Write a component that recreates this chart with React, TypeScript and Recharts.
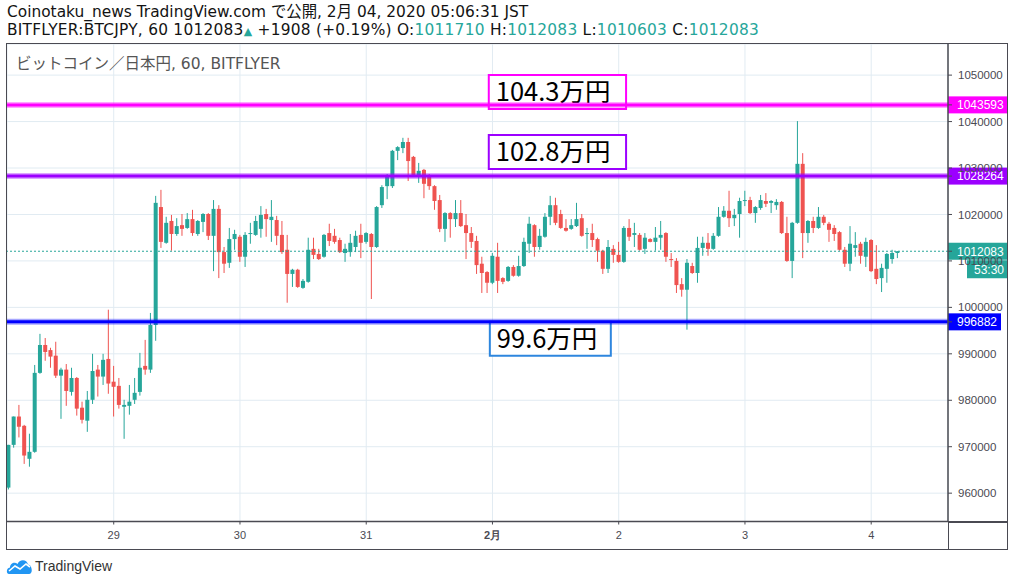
import React from "react";
import {
  Bar,
  CartesianGrid,
  ComposedChart,
  ReferenceArea,
  ReferenceLine,
  XAxis,
  YAxis,
} from "recharts";

// hourly BTC/JPY candles, Jan 28 04:00 .. Feb 4 05:00 JST
const opens = [
  961200, 970400, 976500, 974500, 967400, 968900, 985900, 991900, 990800, 989600,
  985300, 986600, 981800, 984800, 978400, 975600, 980100, 986600, 985100, 988900,
  984000, 983100, 978600, 978800, 980100, 981800, 987400, 986600, 996200, 1021600,
  1013900, 1018600, 1015800, 1017700, 1017100, 1019000, 1015800, 1018400, 1020100, 1015400,
  1021200, 1011900, 1009600, 1014700, 1015200, 1010900, 1015800, 1015600, 1016900, 1020100,
  1018800, 1018800, 1015600, 1012400, 1007200, 1008100, 1004200, 1005500, 1012600, 1011500,
  1010900, 1016000, 1015400, 1014500, 1011700, 1011900, 1013000, 1015600, 1014100, 1015800,
  1013000, 1022000, 1026100, 1026100, 1033700, 1034300, 1035600, 1032400, 1028500, 1029600,
  1028100, 1026100, 1023100, 1016900, 1020300, 1019000, 1020300, 1017700, 1016000, 1014300,
  1009400, 1007600, 1005300, 1010900, 1006300, 1005700, 1008700, 1006800, 1008900, 1013700,
  1017700, 1013000, 1015200, 1019500, 1022000, 1020100, 1017100, 1016900, 1017500, 1019200,
  1015800, 1016000, 1014700, 1012200, 1008300, 1012600, 1011300, 1009800, 1017100, 1015600,
  1015600, 1012600, 1014700, 1014100, 1015000, 1016000, 1010400, 1010000, 1005000, 1003800,
  1008900, 1007400, 1012800, 1013900, 1012600, 1015400, 1019500, 1020800, 1019200, 1020100,
  1022900, 1023100, 1020300, 1021400, 1022900, 1022500, 1022000, 1022700, 1016000, 1010000,
  1018200, 1030900, 1016000, 1018600, 1017100, 1019500, 1018000, 1017100, 1016200, 1012400,
  1009400, 1012800, 1013700, 1010900, 1014500, 1008300, 1006300, 1008300, 1010400, 1011710,
];
const highs = [
  970400, 976500, 979000, 974700, 972800, 987600, 994300, 993400, 991300, 992600,
  987000, 987800, 987000, 985000, 979700, 982000, 990000, 987600, 990000, 999500,
  987400, 984800, 980100, 983300, 984800, 990200, 993000, 998800, 1024000, 1025300,
  1019500, 1019900, 1019200, 1020100, 1020300, 1021000, 1018800, 1020300, 1020300, 1023100,
  1022000, 1013000, 1017100, 1016700, 1015600, 1016200, 1018200, 1019700, 1021800, 1021200,
  1023100, 1019700, 1018600, 1015600, 1008300, 1008300, 1006100, 1015000, 1015000, 1012600,
  1015800, 1018000, 1016900, 1015000, 1013700, 1015800, 1016500, 1018000, 1016200, 1016000,
  1021800, 1026300, 1028700, 1033900, 1034700, 1036500, 1036500, 1032600, 1031100, 1029800,
  1028700, 1026300, 1024200, 1020500, 1020500, 1023100, 1023100, 1020100, 1017300, 1015400,
  1010900, 1007800, 1011700, 1013900, 1006500, 1008900, 1009100, 1011100, 1015000, 1019500,
  1017900, 1016900, 1020300, 1024000, 1023600, 1021000, 1019000, 1019000, 1022500, 1020100,
  1017100, 1018000, 1015000, 1012400, 1014500, 1013400, 1014100, 1017500, 1019000, 1018200,
  1016000, 1016000, 1014900, 1017300, 1018600, 1016200, 1011700, 1010600, 1006300, 1010400,
  1009600, 1015200, 1015200, 1016000, 1016000, 1021600, 1021800, 1025100, 1021200, 1023600,
  1025100, 1023800, 1021800, 1024200, 1024600, 1023100, 1023300, 1022900, 1019500, 1018400,
  1040100, 1033200, 1018800, 1019500, 1021600, 1019900, 1018400, 1017700, 1016400, 1013000,
  1017500, 1016200, 1014100, 1015000, 1014700, 1013400, 1009400, 1011700, 1012400, 1012083,
];
const lows = [
  960800, 969800, 972000, 966300, 965700, 968700, 985700, 988500, 987000, 984800,
  976000, 978800, 981000, 976700, 975000, 973200, 979200, 980800, 983300, 981400,
  976500, 978200, 971700, 976900, 979200, 981000, 985500, 985900, 992800, 1012800,
  1013700, 1012200, 1015400, 1015400, 1016900, 1015400, 1015400, 1016200, 1014500, 1007800,
  1006300, 1007400, 1008500, 1012400, 1009800, 1008700, 1013700, 1015400, 1015000, 1015200,
  1014100, 1013400, 1011500, 1001000, 1004400, 1004200, 1004000, 1005300, 1010400, 1010200,
  1010700, 1013200, 1013700, 1011700, 1009800, 1010900, 1011900, 1010600, 1013700, 1001800,
  1012800, 1021400, 1023300, 1025700, 1031700, 1033200, 1027200, 1028100, 1026800, 1023500,
  1025300, 1021000, 1016200, 1014100, 1015000, 1017300, 1017300, 1010400, 1012800, 1007200,
  1003100, 1003100, 1005000, 1003100, 1005000, 1005500, 1006600, 1006600, 1008700, 1011700,
  1010900, 1012400, 1015000, 1017700, 1017700, 1016900, 1016300, 1016700, 1017300, 1015200,
  1012600, 1013000, 1009800, 1007200, 1007400, 1009600, 1009600, 1009600, 1014300, 1013000,
  1012200, 1011500, 1014000, 1012200, 1012400, 1009800, 1008700, 1003100, 1002300, 995200,
  1007200, 1005300, 1011100, 1011100, 1012400, 1015200, 1019300, 1017300, 1017500, 1015000,
  1021800, 1020100, 1018200, 1021000, 1021600, 1020300, 1021000, 1015800, 1009800, 1006300,
  1018000, 1010600, 1013900, 1016000, 1016900, 1017700, 1014100, 1014300, 1012200, 1008700,
  1007800, 1010900, 1009400, 1008700, 1007600, 1005000, 1003300, 1005300, 1009400, 1010603,
];
const closes = [
  970400, 976500, 974300, 968100, 968900, 985900, 991900, 990400, 989400, 985300,
  986600, 982000, 984800, 978200, 975800, 980100, 986300, 985100, 988700, 983600,
  982900, 979000, 979000, 979700, 981600, 987000, 986600, 996200, 1022500, 1014100,
  1018200, 1015800, 1017500, 1016900, 1019000, 1016000, 1018600, 1020100, 1015400, 1021200,
  1011900, 1009400, 1014700, 1015800, 1010900, 1015600, 1016000, 1018600, 1019900, 1019000,
  1019500, 1015400, 1011900, 1007200, 1008100, 1004400, 1005700, 1012400, 1011300, 1010400,
  1015600, 1014300, 1014100, 1011900, 1012600, 1013900, 1015400, 1013900, 1016000, 1013000,
  1021600, 1025900, 1028100, 1033700, 1034500, 1035600, 1031500, 1028500, 1029400, 1026600,
  1026100, 1022900, 1016900, 1020300, 1019000, 1020300, 1017500, 1016000, 1014100, 1009100,
  1007400, 1005300, 1011100, 1005700, 1005500, 1008700, 1006800, 1008900, 1014100, 1018000,
  1013000, 1015400, 1019500, 1022000, 1018200, 1017100, 1016500, 1017700, 1019000, 1015400,
  1016000, 1014500, 1012200, 1008300, 1013000, 1011300, 1009800, 1017100, 1015200, 1016000,
  1012400, 1015000, 1014100, 1015000, 1015600, 1010900, 1010200, 1004800, 1003800, 1009600,
  1007400, 1012800, 1013900, 1012600, 1015400, 1019500, 1020800, 1019200, 1019900, 1022900,
  1023100, 1020300, 1021600, 1023100, 1022300, 1022900, 1022700, 1016000, 1010000, 1018200,
  1030900, 1016000, 1018600, 1017100, 1019500, 1018200, 1016700, 1015800, 1012400, 1009400,
  1013700, 1013400, 1011100, 1014100, 1007800, 1006100, 1008500, 1011500, 1011700, 1012083,
];

const dayTicks = [20, 44, 68, 92, 116, 140, 164];
const dayLabels = ["29", "30", "31", "2月", "2", "3", "4"];
const priceTicks = [
  960000, 970000, 980000, 990000, 1000000, 1010000, 1020000, 1030000, 1040000, 1050000,
];

// horizontal levels drawn on the chart
const levelPrices = [1043593, 1028264, 996882];
const levelNotes = ["104.3万円", "102.8万円", "99.6万円"];
// note boxes: [from bar, to bar, top price, bottom price]
const noteFrom = [91.3, 91.3, 91.5];
const noteTo = [117.4, 117.4, 114.5];
const noteTop = [1050000, 1037100, 996900];
const noteBottom = [1042700, 1029800, 989600];

const lastPrice = 1012083;
const countdown = "53:30";

const levelColors = ["#ff00ff", "#9c00ff", "#0000ff"];
const noteBorders = ["#ff00ff", "#9c00ff", "#2e86de"];
const UP = "#26a69a";
const DOWN = "#ef5350";
const AXIS = "#4a4a52";
const GRID = "#e1ebf2";
const SANS = "'Liberation Sans', Arial, sans-serif";
const JP = "'Noto Sans CJK JP', 'Noto Sans', sans-serif";
const HEAD = "'DejaVu Sans', 'Noto Sans CJK JP', sans-serif";

const candles = opens.map((o, i) => ({
  i,
  range: [lows[i], highs[i]],
  open: o,
  high: highs[i],
  low: lows[i],
  close: closes[i],
}));

function Candle(props: any) {
  const { x, y, width, height, payload } = props;
  if (x == null || y == null) return null;
  const top = Math.min(y, y + height);
  const bot = Math.max(y, y + height);
  const { open, close, high, low } = payload;
  const k = (bot - top) / (high - low || 1);
  const py = (v: number) => top + (high - v) * k;
  const cx = x + width / 2;
  const color = close >= open ? UP : DOWN;
  const bt = py(Math.max(open, close));
  const bb = py(Math.min(open, close));
  return (
    <g>
      <line x1={cx} x2={cx} y1={top} y2={bot} stroke={color} strokeWidth={1} />
      <rect x={cx - 2} y={bt} width={4} height={Math.max(1, bb - bt)} fill={color} />
    </g>
  );
}

function DayTick({ x, y, payload }: any) {
  const label = dayLabels[dayTicks.indexOf(payload.value)];
  return (
    <text
      x={x}
      y={y}
      dy={12}
      textAnchor="middle"
      fill={AXIS}
      fontSize={11}
      fontFamily={SANS}
      fontWeight={label === "2月" ? 700 : 400}
    >
      {label}
    </text>
  );
}

function PriceTag({ viewBox, color, text, w = 59, sub }: any) {
  const x = viewBox.x + viewBox.width;
  const y = viewBox.y;
  return (
    <g>
      <rect x={x} y={y - 8.5} width={w} height={17} fill={color} />
      <line x1={x} x2={x + 4} y1={y} y2={y} stroke={AXIS} />
      <text x={x + 9} y={y} dy="0.36em" fill="#fff" fontSize={12} fontFamily={SANS}>
        {text}
      </text>
      {sub ? (
        <g>
          <rect x={x + 19} y={y + 9} width={40} height={18} fill={color} />
          <text x={x + 26} y={y + 18} dy="0.36em" fill="#fff" fontSize={12} fontFamily={SANS}>
            {sub}
          </text>
        </g>
      ) : null}
    </g>
  );
}

function NoteLabel({ viewBox, text }: any) {
  return (
    <text
      x={viewBox.x + 7}
      y={viewBox.y + viewBox.height / 2}
      dy="0.36em"
      fill="#000"
      fontSize={25.5}
      fontFamily={JP}
    >
      {text}
    </text>
  );
}

function Header() {
  const teal = { color: UP };
  return (
    <div
      style={{
        position: "absolute",
        left: 7,
        top: 3,
        fontFamily: HEAD,
        fontSize: 15.4,
        lineHeight: "18px",
        color: "#131313",
        whiteSpace: "nowrap",
      }}
    >
      <div>Coinotaku_news TradingView.com で公開, 2月 04, 2020 05:06:31 JST</div>
      <div style={{ letterSpacing: 0.25 }}>
        BITFLYER:BTCJPY, 60 1012083<span style={{ ...teal, fontSize: 11 }}>▲</span> +1908 (+0.19%) O:
        <span style={teal}>1011710</span> H:<span style={teal}>1012083</span> L:
        <span style={teal}>1010603</span> C:<span style={teal}>1012083</span>
      </div>
    </div>
  );
}

function Logo() {
  return (
    <div style={{ position: "absolute", left: 6, top: 558, display: "flex", alignItems: "center" }}>
      <svg width={27} height={16} viewBox="0 0 27 16">
        <path
          d="M3 16 C0 16 0 10 4 9.5 C4 5 9 3.5 11.5 6 C13 1 21 0.5 22 6.5 C26 6.5 27.5 16 23 16 Z"
          fill="#2196f3"
        />
        <polyline points="3,13 9,8 14,11 20,6 24,9" fill="none" stroke="#fff" strokeWidth={1.6} />
      </svg>
      <span style={{ fontFamily: SANS, fontSize: 14, color: "#333", marginLeft: 2 }}>TradingView</span>
    </div>
  );
}

export default function App() {
  return (
    <div
      style={{
        position: "absolute",
        left: 0,
        top: 0,
        width: 1014,
        height: 586,
        background: "#fff",
        overflow: "hidden",
      }}
    >
      <Header />
      <ComposedChart
        width={1014}
        height={586}
        data={candles}
        margin={{ top: 44, right: 7, left: 7, bottom: 37 }}
      >
        <CartesianGrid stroke={GRID} strokeWidth={1} />
        <XAxis
          type="number"
          dataKey="i"
          domain={[-0.29, 178.6]}
          allowDataOverflow
          ticks={dayTicks}
          interval={0}
          height={27.5}
          tick={<DayTick />}
          tickSize={3}
          tickMargin={2}
          tickLine={{ stroke: AXIS }}
          axisLine={{ stroke: AXIS, strokeWidth: 1.5 }}
        />
        <YAxis
          orientation="right"
          width={59}
          domain={[953900, 1056700]}
          allowDataOverflow
          ticks={priceTicks}
          interval={0}
          tickSize={4}
          tickMargin={6}
          tick={{ fill: AXIS, fontSize: 11.5, fontFamily: SANS }}
          tickLine={{ stroke: AXIS }}
          axisLine={{ stroke: AXIS, strokeWidth: 1.5 }}
        />
        {levelNotes.map((note, k) => (
          <ReferenceArea
            key={note}
            x1={noteFrom[k]}
            x2={noteTo[k]}
            y1={noteBottom[k]}
            y2={noteTop[k]}
            fill="#fff"
            fillOpacity={1}
            stroke={noteBorders[k]}
            strokeWidth={2}
            ifOverflow="visible"
            label={<NoteLabel text={note} />}
          />
        ))}
        <Bar
          dataKey="range"
          barSize={5}
          shape={<Candle />}
          isAnimationActive={false}
        />
        {levelPrices.map((p, k) => (
          <ReferenceLine
            key={"halo" + p}
            y={p}
            stroke={levelColors[k]}
            strokeOpacity={0.35}
            strokeWidth={6}
          />
        ))}
        {levelPrices.map((p, k) => (
          <ReferenceLine
            key={p}
            y={p}
            stroke={levelColors[k]}
            strokeWidth={3}
            label={
              <PriceTag color={levelColors[k]} text={String(p)} w={String(p).length > 6 ? 59 : 53} />
            }
          />
        ))}
        <ReferenceLine
          y={lastPrice}
          stroke={UP}
          strokeDasharray="2 2"
          strokeWidth={1}
          label={<PriceTag color={UP} text={String(lastPrice)} sub={countdown} />}
        />
      </ComposedChart>
      <div
        style={{
          position: "absolute",
          left: 16,
          top: 51,
          fontFamily: HEAD,
          fontSize: 15.5,
          color: "#555",
          whiteSpace: "nowrap",
        }}
      >
        ビットコイン／日本円, 60, BITFLYER
      </div>
      {/* chart frame */}
      <div
        style={{
          position: "absolute",
          left: 6,
          top: 43,
          width: 1000,
          height: 505,
          border: `1.5px solid ${AXIS}`,
          pointerEvents: "none",
        }}
      />
      <div style={{ position: "absolute", left: 948, top: 521, width: 59, height: 1.5, background: AXIS }} />
      <div style={{ position: "absolute", left: 947.5, top: 521, width: 1.5, height: 28, background: AXIS }} />
      <Logo />
    </div>
  );
}
